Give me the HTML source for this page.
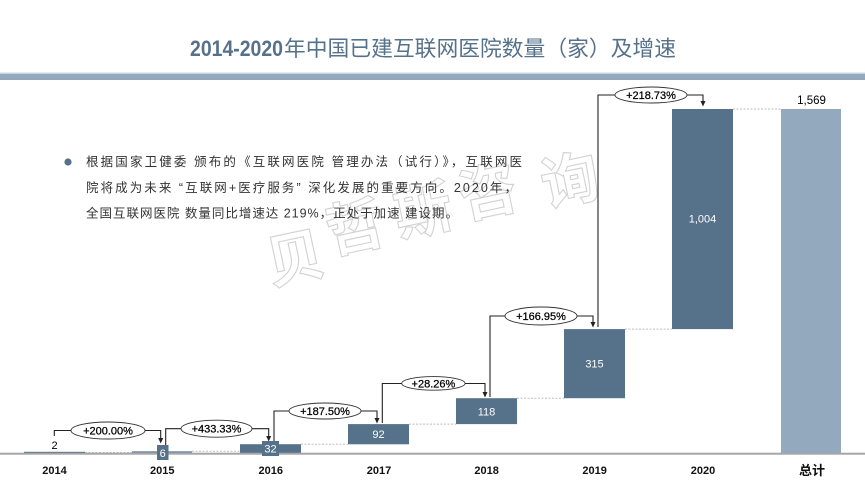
<!DOCTYPE html>
<html><head><meta charset="utf-8"><style>
html,body{margin:0;padding:0;background:#fff;}
svg{display:block;}
text{font-family:"Liberation Sans","Noto Sans CJK SC",sans-serif;}
</style></head><body>
<svg width="865" height="487" viewBox="0 0 865 487" xmlns="http://www.w3.org/2000/svg">
<rect width="865" height="487" fill="#fff"/>
<!-- title -->
<text x="190" y="56" font-size="22" font-weight="bold" fill="#56718A" textLength="93" lengthAdjust="spacingAndGlyphs">2014-2020</text>
<text x="284" y="56" font-size="21.5" fill="#56718A" textLength="392" lengthAdjust="spacingAndGlyphs" style="font-family:'Noto Sans CJK SC',sans-serif;font-weight:400">年中国已建互联网医院数量（家）及增速</text>
<rect x="0" y="72.5" width="865" height="1.5" fill="#c9d4de"/>
<rect x="0" y="74" width="865" height="6" fill="#93A9BD"/>

<!-- watermark -->
<g font-size="58" font-weight="bold" fill="#fff" stroke="#d2d2d2" stroke-width="1.1" text-anchor="middle" style="font-family:'Noto Sans CJK SC',sans-serif">
<text x="295" y="279" transform="rotate(-12 295 258)">贝</text>
<text x="355" y="248" transform="rotate(-12 355 227)">哲</text>
<text x="423" y="231" transform="rotate(-12 423 210)">斯</text>
<text x="488" y="213" transform="rotate(-12 488 192)">咨</text>
<text x="570" y="201" transform="rotate(-12 570 180)">询</text>
</g>

<!-- paragraph -->
<circle cx="68" cy="162" r="3.6" fill="#56718A"/>
<g font-size="12.5" fill="#333">
<text x="86" y="166" textLength="436" lengthAdjust="spacing">根据国家卫健委 颁布的《互联网医院 管理办法（试行）》，互联网医</text>
<text x="86" y="192" textLength="431" lengthAdjust="spacing">院将成为未来 “互联网+医疗服务” 深化发展的重要方向。2020年，</text>
<text x="86" y="217.5" textLength="372" lengthAdjust="spacing">全国互联网医院 数量同比增速达 219%，正处于加速 建设期。</text>
</g>

<!-- dashed connectors -->
<g stroke="#bdbdbd" stroke-width="1" stroke-dasharray="2,1.5">
<line x1="85" y1="452.5" x2="132" y2="452.5"/>
<line x1="192" y1="451.3" x2="240" y2="451.3"/>
<line x1="301" y1="444.3" x2="348" y2="444.3"/>
<line x1="409" y1="424.1" x2="456" y2="424.1"/>
<line x1="517" y1="398.2" x2="564" y2="398.2"/>
<line x1="625" y1="329.1" x2="672" y2="329.1"/>
<line x1="733" y1="109" x2="781" y2="109"/>
</g>

<!-- bars -->
<g fill="#56718A">
<rect x="24" y="451.8" width="61" height="1.5"/>
<rect x="132" y="451.2" width="60" height="2" fill="#7890a6"/>
<rect x="240" y="444.2" width="61" height="9"/>
<rect x="348" y="424.1" width="61" height="20.2"/>
<rect x="456" y="398.2" width="61" height="25.9"/>
<rect x="564" y="329.1" width="61" height="69.1"/>
<rect x="672" y="109" width="61" height="220.1"/>
</g>
<rect x="781" y="109" width="60" height="344" fill="#93A9BD"/>

<!-- axis -->
<rect x="0" y="452.7" width="865" height="2" fill="#a6a6a6"/>

<!-- small label boxes -->
<rect x="157" y="445" width="11.5" height="15" fill="#56718A"/>
<rect x="262" y="441" width="17" height="15" fill="#56718A"/>

<!-- value labels -->
<g font-size="11" text-anchor="middle">
<text x="54.5" y="449" fill="#000">2</text>
<text x="162.7" y="457" fill="#fff">6</text>
<text x="270.5" y="452.5" fill="#fff">32</text>
<text x="378.5" y="438" fill="#fff">92</text>
<text x="486.5" y="415.5" fill="#fff">118</text>
<text x="594.5" y="367.5" fill="#fff">315</text>
<text x="702.5" y="222.5" fill="#fff">1,004</text>
<text x="811.5" y="104" fill="#000" font-size="11.5">1,569</text>
</g>

<!-- growth connectors -->
<g stroke="#222" stroke-width="1.1" fill="none">
<path d="M54.3,436 V430.5 H71 M145,430.5 H160.7 V439"/>
<path d="M165.7,445 V428.7 H181 M252,428.7 H268.7 V437"/>
<path d="M274,441 V411 H289 M361,411 H377 V419"/>
<path d="M382.3,423 V383.5 H401.7 M465,383.5 H485 V393"/>
<path d="M490,397 V316 H505 M577,316 H593 V323"/>
<path d="M598,327 V95 H615 M687,95 H703 V102"/>
</g>
<g fill="#222">
<polygon points="158.2,438 163.2,438 160.7,443.5"/>
<polygon points="266.2,436 271.2,436 268.7,441.5"/>
<polygon points="374.5,418 379.5,418 377,423.5"/>
<polygon points="482.5,392 487.5,392 485,397.5"/>
<polygon points="590.5,322 595.5,322 593,327.5"/>
<polygon points="700.5,101 705.5,101 703,106.5"/>
</g>
<g fill="#fff" stroke="#333" stroke-width="0.9">
<ellipse cx="108" cy="430.5" rx="37" ry="8.5"/>
<ellipse cx="216.5" cy="428.7" rx="35.5" ry="8.5"/>
<ellipse cx="325" cy="411" rx="36" ry="8"/>
<ellipse cx="433.4" cy="383.4" rx="31.7" ry="6.8"/>
<ellipse cx="541" cy="316" rx="36" ry="9"/>
<ellipse cx="651" cy="95" rx="36" ry="8"/>
</g>
<g font-size="11" fill="#000" text-anchor="middle" stroke="#000" stroke-width="0.25">
<text x="108" y="434.5">+200.00%</text>
<text x="216.5" y="432.7">+433.33%</text>
<text x="325" y="415">+187.50%</text>
<text x="433.4" y="387.4">+28.26%</text>
<text x="541" y="320">+166.95%</text>
<text x="651" y="99">+218.73%</text>
</g>

<!-- category labels -->
<g font-size="11" font-weight="bold" fill="#111" text-anchor="middle">
<text x="54.5" y="474">2014</text>
<text x="162.3" y="474">2015</text>
<text x="270.8" y="474">2016</text>
<text x="379" y="474">2017</text>
<text x="486.6" y="474">2018</text>
<text x="594.6" y="474">2019</text>
<text x="703" y="474">2020</text>
<text x="812" y="475" font-size="13">总计</text>
</g>
</svg>
</body></html>
